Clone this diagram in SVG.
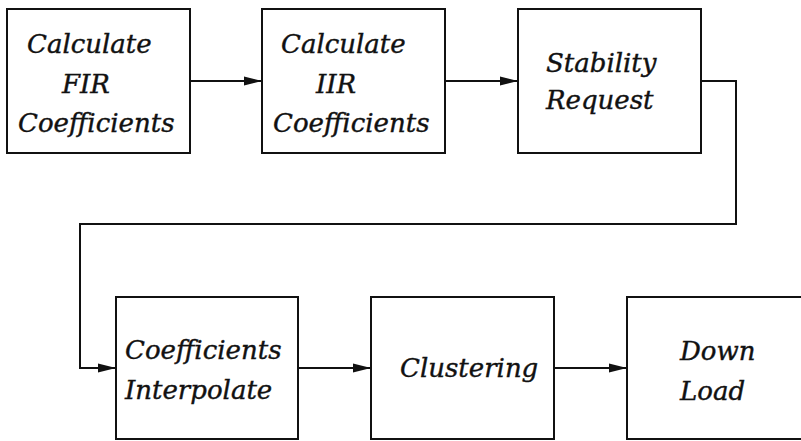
<svg xmlns="http://www.w3.org/2000/svg" width="801" height="441" viewBox="0 0 801 441">
<style>
.box{fill:#fff;stroke:#111;stroke-width:2}
.t{font-family:"DejaVu Serif","Liberation Serif",serif;font-style:italic;font-size:26px;fill:#111;stroke:#111;stroke-width:0.4}
.c{fill:none;stroke:#111;stroke-width:2}
</style>
<defs>
<marker id="ah" markerWidth="18" markerHeight="10" refX="18" refY="5" orient="auto" markerUnits="userSpaceOnUse">
<path d="M0,0.6 L18,5 L0,9.4 Z" fill="#111"/>
</marker>
</defs>
<rect width="801" height="441" fill="#fff"/>
<g id="connectors">
<path class="c" d="M190,81 H262" marker-end="url(#ah)"/>
<path class="c" d="M445,81 H518" marker-end="url(#ah)"/>
<path class="c" d="M701,81 H736 V224 H80 V368 H116" marker-end="url(#ah)"/>
<path class="c" d="M298,368 H371" marker-end="url(#ah)"/>
<path class="c" d="M554,368 H627" marker-end="url(#ah)"/>
</g>
<g id="fir">
<rect class="box" x="7" y="9" width="183" height="144"/>
<text class="t" x="27" y="53">Calculate</text>
<text class="t" x="62" y="93">FIR</text>
<text class="t" x="18" y="132">Coefficients</text>
</g>
<g id="iir">
<rect class="box" x="262" y="9" width="183" height="144"/>
<text class="t" x="281" y="53">Calculate</text>
<text class="t" x="316" y="93">IIR</text>
<text class="t" x="273" y="132">Coefficients</text>
</g>
<g id="stability">
<rect class="box" x="518" y="9" width="183" height="144"/>
<text class="t" x="546" y="72">Stability</text>
<text class="t" x="546" y="109">Request</text>
</g>
<g id="interpolate">
<rect class="box" x="116" y="297" width="182" height="142"/>
<text class="t" x="125" y="359">Coefficients</text>
<text class="t" x="125" y="399">Interpolate</text>
</g>
<g id="clustering">
<rect class="box" x="371" y="297" width="183" height="142"/>
<text class="t" x="400" y="377">Clustering</text>
</g>
<g id="download">
<rect class="box" x="627" y="297" width="190" height="142"/>
<text class="t" x="680" y="360">Down</text>
<text class="t" x="680" y="400">Load</text>
</g>
</svg>
